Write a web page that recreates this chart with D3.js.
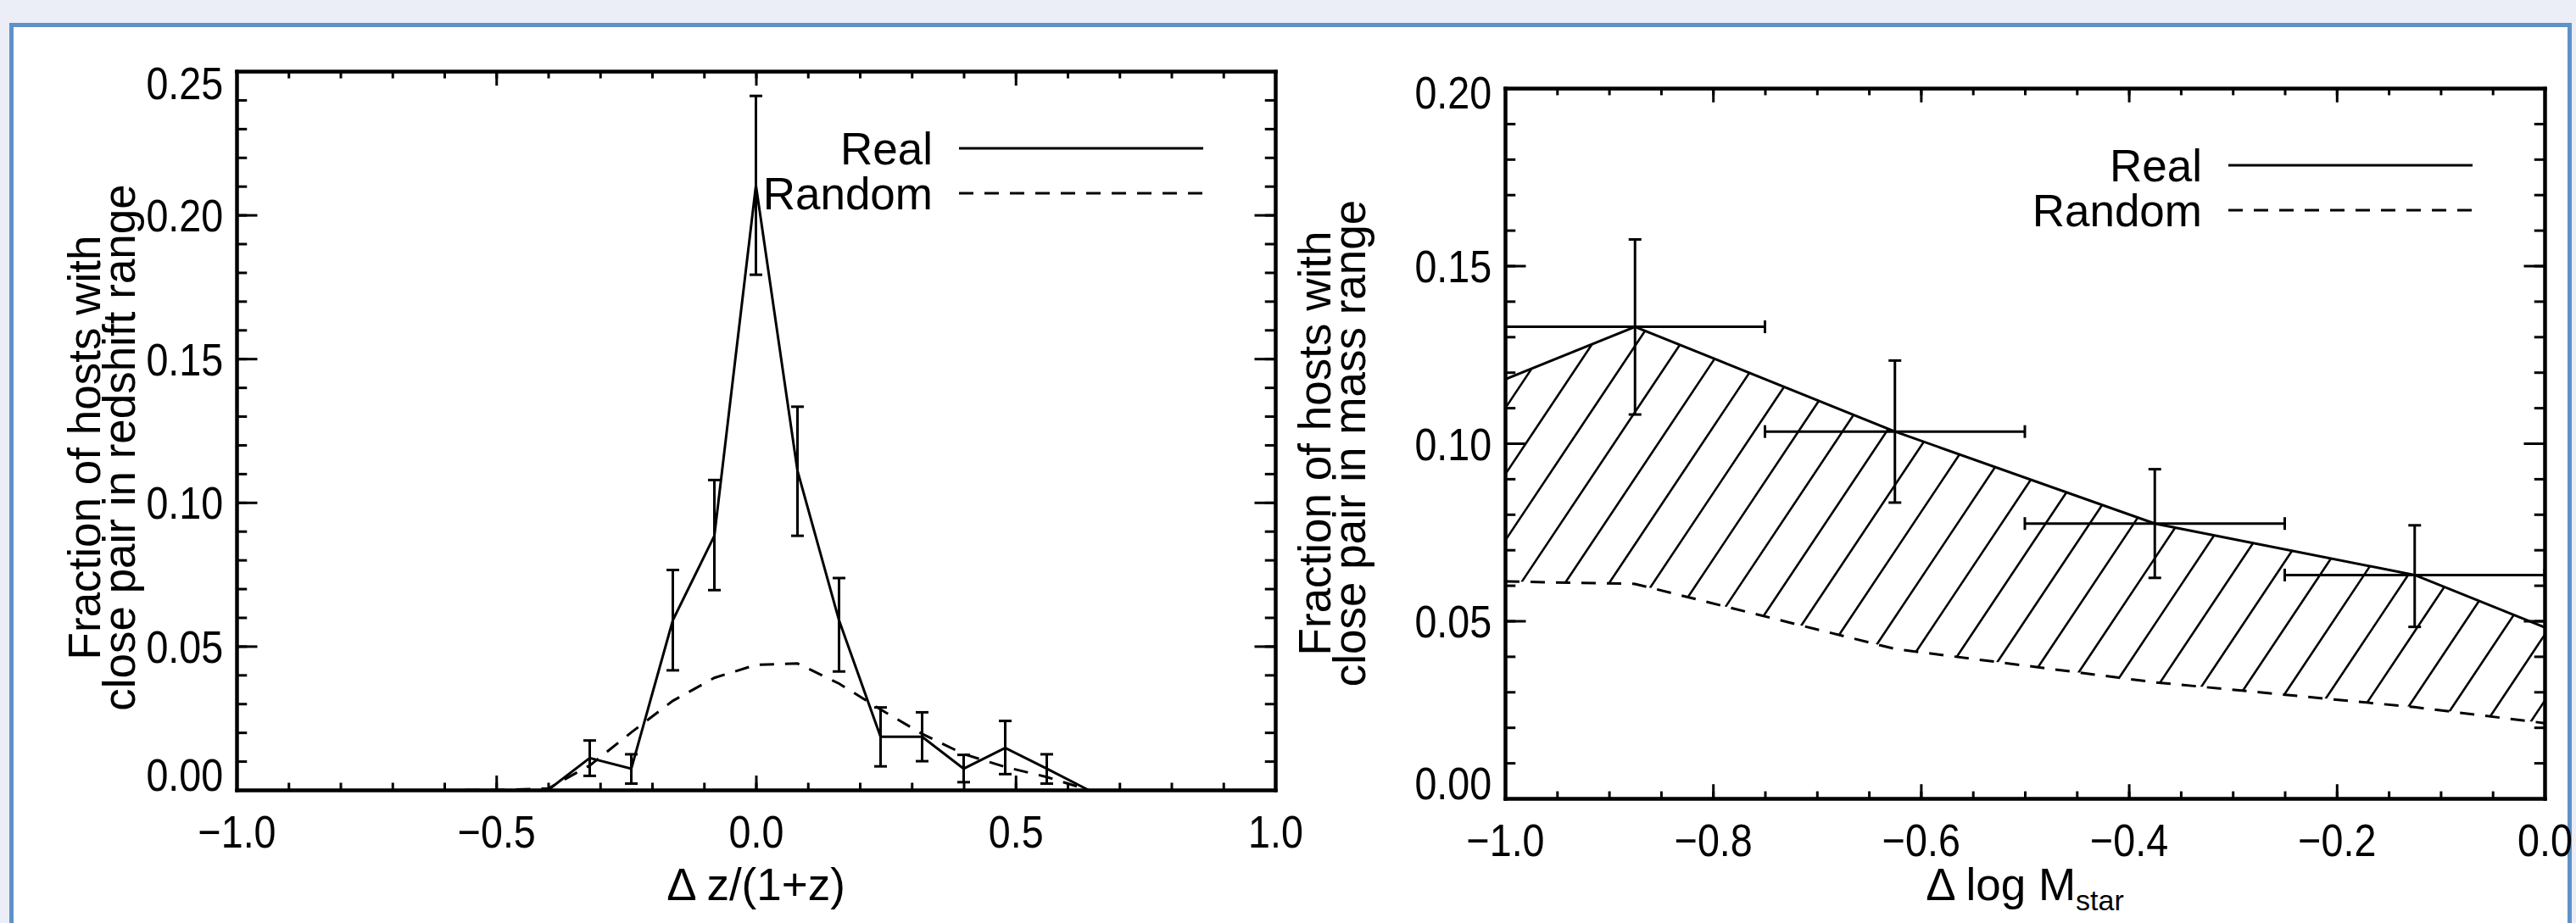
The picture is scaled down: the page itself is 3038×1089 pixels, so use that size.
<!DOCTYPE html>
<html><head><meta charset="utf-8">
<script src="https://cdn.jsdelivr.net/npm/d3@7"></script>
<style>
html,body{margin:0;padding:0;background:#ebeef6;}
svg{display:block;}
</style></head><body>
<svg id="chart" width="3038" height="1089"></svg>
<script>
// ---------------- data ----------------
// Left panel: redshift offset
const zRealX  = [-0.40,-0.32,-0.24,-0.16,-0.08,0.00,0.08,0.16,0.24,0.32,0.40,0.48,0.56,0.64];
const zReal   = [0.000,0.0111,0.0074,0.0590,0.0884,0.2103,0.1110,0.0590,0.0185,0.0185,0.0074,0.0146,0.0074,0.000];
const zErrX   = [-0.32,-0.24,-0.16,-0.08,0.00,0.08,0.16,0.24,0.32,0.40,0.48,0.56];
const zErrLo  = [0.0049,0.0022,0.0416,0.0695,0.1792,0.0884,0.0412,0.0082,0.0100,0.0027,0.0055,0.0022];
const zErrHi  = [0.0172,0.0124,0.0765,0.1078,0.2414,0.1333,0.0737,0.0287,0.0270,0.0122,0.0240,0.0124];
const zRandX  = [-0.56,-0.48,-0.40,-0.32,-0.24,-0.16,-0.08,0.00,0.08,0.16,0.24,0.32,0.40,0.48,0.56,0.64];
const zRand   = [0,0,0.0005,0.0085,0.020,0.031,0.039,0.0435,0.044,0.037,0.028,0.0195,0.0125,0.008,0.0045,0];
const zXMajor = [-1,-0.5,0,0.5,1];
const zXLabels= ["\u22121.0","\u22120.5","0.0","0.5","1.0"];
const zYMajor = [0,0.05,0.10,0.15,0.20,0.25];
const zYLabels= ["0.00","0.05","0.10","0.15","0.20","0.25"];

// Right panel: stellar mass offset
const mLineX   = [-1.0,-0.875,-0.625,-0.375,-0.125,0.0];
const mReal    = [0.118,0.1328,0.1033,0.0774,0.0629,0.0482];
const mRand    = [0.0611,0.0604,0.0421,0.0327,0.0257,0.0212];
const mErrX    = [-0.875,-0.625,-0.375,-0.125];
const mErrY    = [0.1328,0.1033,0.0774,0.0629];
const mErrLo   = [0.1081,0.0833,0.0621,0.0483];
const mErrHi   = [0.1574,0.1233,0.0927,0.0769];
const mBinHalf = [0.125,0.125,0.125,0.125];
const mXMajor  = [-1.0,-0.8,-0.6,-0.4,-0.2,0.0];
const mXLabels = ["\u22121.0","\u22120.8","\u22120.6","\u22120.4","\u22120.2","0.0"];
const mYMajor  = [0,0.05,0.10,0.15,0.20];
const mYLabels = ["0.00","0.05","0.10","0.15","0.20"];

const legendNames = ["Real","Random"];

// ---------------- drawing ----------------
const W=3038,H=1089;
const FONT='"Liberation Sans", Arial, Helvetica, sans-serif';
const FS=53;
const TICK_SX=0.88;
const svg=d3.select('#chart');
svg.append('rect').attr('width',W).attr('height',H).attr('fill','#ebeef6');
svg.append('rect').attr('x',13.5).attr('y',29.5).attr('width',3017).attr('height',H+40)
   .attr('fill','#fff').attr('stroke','#5e92c8').attr('stroke-width',5);

function panel(o){
  const g=svg.append('g');
  const x=d3.scaleLinear().domain(o.xDomain).range([o.left,o.right]);
  const y=d3.scaleLinear().domain(o.yDomain).range([o.bottom,o.top]);
  const w=o.right-o.left, h=o.bottom-o.top;
  const xLen=0.02*h, yLen=0.02*w;
  const xMinor=d3.range(o.xDomain[0],o.xDomain[1]+1e-9,o.xMinorStep);
  const yMinor=d3.range(o.yDomain[0],o.yDomain[1]+1e-9,o.yMinorStep);

  const clipId='clip'+o.id;
  g.append('clipPath').attr('id',clipId).append('rect')
    .attr('x',o.left).attr('y',o.top).attr('width',w).attr('height',h);

  // hatch between curves
  if(o.hatch){
    const hid='hatch'+o.id;
    const area=d3.area().x(d=>x(d[0])).y0(d=>y(d[2])).y1(d=>y(d[1]));
    g.append('clipPath').attr('id',hid).append('path')
      .attr('d',area(o.hatch));
    const hg=g.append('g').attr('clip-path',`url(#${hid})`);
    const run=h/o.hatchSlope;
    d3.range(o.left-run-60, o.right+60, o.hatchStep).forEach(k=>{
      hg.append('line').attr('x1',k).attr('y1',o.bottom).attr('x2',k+run).attr('y2',o.top)
        .attr('stroke','#000').attr('stroke-width',2.6);
    });
  }

  const dg=g.append('g').attr('clip-path',`url(#${clipId})`);
  const line=d3.line().x(d=>x(d[0])).y(d=>y(d[1]));
  dg.append('path').attr('d',line(o.rand)).attr('fill','none').attr('stroke','#000')
    .attr('stroke-width',3).attr('stroke-dasharray','17,13');
  dg.append('path').attr('d',line(o.real)).attr('fill','none').attr('stroke','#000')
    .attr('stroke-width',3).attr('stroke-linejoin','miter');

  // error bars
  const cap=7.5;
  o.err.forEach(e=>{
    const cx=x(e.x), y1=y(e.lo), y2=y(e.hi);
    dg.append('line').attr('x1',cx).attr('x2',cx).attr('y1',y1).attr('y2',y2);
    dg.append('line').attr('x1',cx-cap).attr('x2',cx+cap).attr('y1',y1).attr('y2',y1);
    dg.append('line').attr('x1',cx-cap).attr('x2',cx+cap).attr('y1',y2).attr('y2',y2);
    if(e.hw!==undefined){
      const xa=x(e.x-e.hw), xb=x(e.x+e.hw), cy=y(e.y);
      dg.append('line').attr('x1',xa).attr('x2',xb).attr('y1',cy).attr('y2',cy);
      dg.append('line').attr('x1',xa).attr('x2',xa).attr('y1',cy-cap).attr('y2',cy+cap);
      dg.append('line').attr('x1',xb).attr('x2',xb).attr('y1',cy-cap).attr('y2',cy+cap);
    }
  });
  dg.selectAll('line').attr('stroke','#000').attr('stroke-width',3);

  // axes
  function styleAxis(sel){
    sel.attr('font-family',FONT).attr('font-size',FS);
    sel.selectAll('.domain').attr('stroke','#000').attr('stroke-width',4).attr('stroke-linecap','square');
    sel.selectAll('.tick line').attr('stroke','#000').attr('stroke-width',3);
    sel.selectAll('.tick text').attr('fill','#000').attr('transform',`scale(${TICK_SX},1)`);
  }
  const ax=g.append('g');
  // minor ticks
  ax.append('g').attr('transform',`translate(0,${o.bottom})`).call(d3.axisBottom(x).tickValues(xMinor).tickSize(-xLen/2).tickSizeOuter(0).tickFormat('')).call(styleAxis);
  ax.append('g').attr('transform',`translate(0,${o.top})`).call(d3.axisTop(x).tickValues(xMinor).tickSize(-xLen/2).tickSizeOuter(0).tickFormat('')).call(styleAxis);
  ax.append('g').attr('transform',`translate(${o.left},0)`).call(d3.axisLeft(y).tickValues(yMinor).tickSize(-yLen/2).tickSizeOuter(0).tickFormat('')).call(styleAxis);
  ax.append('g').attr('transform',`translate(${o.right},0)`).call(d3.axisRight(y).tickValues(yMinor).tickSize(-yLen/2).tickSizeOuter(0).tickFormat('')).call(styleAxis);
  // major ticks
  ax.append('g').attr('transform',`translate(0,${o.bottom})`).call(d3.axisBottom(x).tickValues(o.xMajor).tickSize(-xLen).tickSizeOuter(0).tickPadding(30).tickFormat((d,i)=>o.xLabels[i])).call(styleAxis);
  ax.append('g').attr('transform',`translate(0,${o.top})`).call(d3.axisTop(x).tickValues(o.xMajor).tickSize(-xLen).tickSizeOuter(0).tickFormat('')).call(styleAxis);
  const yl=ax.append('g').attr('transform',`translate(${o.left},0)`).call(d3.axisLeft(y).tickValues(o.yMajor).tickSize(-yLen).tickSizeOuter(0).tickPadding(18).tickFormat((d,i)=>o.yLabels[i])).call(styleAxis);
  yl.selectAll('.tick text').attr('dy',(d,i,n)=> i===0 ? '0em' : (i===n.length-1 ? o.topDy : '0.36em'));
  ax.append('g').attr('transform',`translate(${o.right},0)`).call(d3.axisRight(y).tickValues(o.yMajor).tickSize(-yLen).tickSizeOuter(0).tickFormat('')).call(styleAxis);

  // legend
  const lg=g.append('g').attr('font-family',FONT).attr('font-size',FS);
  legendNames.forEach((nm,i)=>{
    const by=o.top+110+i*53;
    lg.append('text').attr('x',o.right-404).attr('y',by).attr('text-anchor','end').text(nm);
    lg.append('line').attr('x1',o.right-373).attr('x2',o.right-85).attr('y1',by-19).attr('y2',by-19)
      .attr('stroke','#000').attr('stroke-width',3).attr('stroke-dasharray',i===1?'17,13':null);
  });

  // y title
  const cy=(o.top+o.bottom)/2+o.yTitleDy;
  o.yTitle.forEach((t,i)=>{
    g.append('text').attr('transform',`translate(${o.yTitleX+i*41},${cy}) rotate(-90)`)
      .attr('text-anchor','middle').attr('font-family',FONT).attr('font-size',FS).text(t);
  });
  // x title
  const xt=g.append('text').attr('x',(o.left+o.right)/2).attr('y',o.xTitleY)
    .attr('text-anchor','middle').attr('font-family',FONT).attr('font-size',FS);
  xt.append('tspan').text(o.xTitle[0]);
  if(o.xTitle[1]) xt.append('tspan').attr('font-size',34).attr('dy',12).text(o.xTitle[1]);
}

panel({
  id:'L', left:279, right:1504, top:84, bottom:932,
  xDomain:[-1,1], yDomain:[0,0.25], xMinorStep:0.1, yMinorStep:0.01,
  xMajor:zXMajor, xLabels:zXLabels, yMajor:zYMajor, yLabels:zYLabels, topDy:'0.62em',
  real:zRealX.map((v,i)=>[v,zReal[i]]),
  rand:zRandX.map((v,i)=>[v,zRand[i]]),
  err:zErrX.map((v,i)=>({x:v,lo:zErrLo[i],hi:zErrHi[i]})),
  yTitle:["Fraction of hosts with","close pair in redshift range"], yTitleX:118, yTitleDy:20,
  xTitle:["\u0394 z/(1+z)"], xTitleY:1062
});
panel({
  id:'R', left:1775, right:3001, top:104, bottom:942,
  xDomain:[-1,0], yDomain:[0,0.20], xMinorStep:0.05, yMinorStep:0.01,
  xMajor:mXMajor, xLabels:mXLabels, yMajor:mYMajor, yLabels:mYLabels, topDy:'0.45em',
  real:mLineX.map((v,i)=>[v,mReal[i]]),
  rand:mLineX.map((v,i)=>[v,mRand[i]]),
  hatch:mLineX.map((v,i)=>[v,mReal[i],mRand[i]]), hatchStep:52, hatchSlope:1.5,
  err:mErrX.map((v,i)=>({x:v,y:mErrY[i],lo:mErrLo[i],hi:mErrHi[i],hw:mBinHalf[i]})),
  yTitle:["Fraction of hosts with","close pair in mass range"], yTitleX:1569, yTitleDy:0,
  xTitle:["\u0394 log M","star"], xTitleY:1062
});
</script>
</body></html>
